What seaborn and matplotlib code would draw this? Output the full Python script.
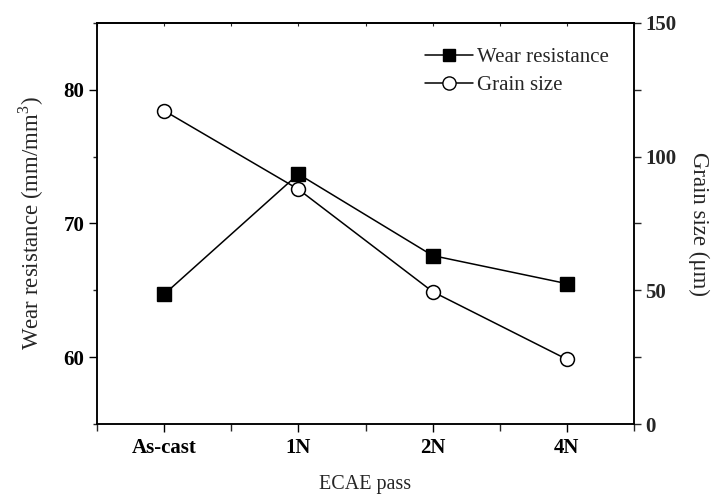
import matplotlib
matplotlib.use("Agg")
import matplotlib.pyplot as plt
import seaborn as sns
import numpy as np
from matplotlib.lines import Line2D
from matplotlib.ticker import MultipleLocator, FixedLocator

categories = ["As-cast", "1N", "2N", "4N"]
wear_resistance = [64.7, 73.7, 67.6, 65.5]
grain_size = [117.2, 87.8, 49.5, 24.2]
left_ticks = [60, 70, 80]
right_ticks = [0, 50, 100, 150]

sns.set_theme(style="ticks")
plt.rcParams["font.family"] = ["Liberation Serif", "DejaVu Serif"]
plt.rcParams["mathtext.fontset"] = "custom"
plt.rcParams["mathtext.rm"] = "Liberation Serif"

fig = plt.figure(figsize=(7.16, 4.94), dpi=100)
ax = fig.add_axes([97/716, 1-424/494, (634-97)/716, (424-23)/494])
ax2 = ax.twinx()

sns.pointplot(x=categories, y=wear_resistance, ax=ax, color="black",
              markers="s", linestyles="-", markersize=9.5, linewidth=1.1,
              markeredgewidth=1.0)
sns.pointplot(x=categories, y=grain_size, ax=ax2, color="black",
              markers="o", linestyles="-", markersize=10, linewidth=1.1,
              markerfacecolor="white", markeredgecolor="black",
              markeredgewidth=1.1)

ax.set_xlim(-0.5, 3.5)
ax2.set_xlim(-0.5, 3.5)
ax.set_ylim(55, 85)
ax2.set_ylim(0, 150)

ax.set_yticks(left_ticks)
ax.yaxis.set_minor_locator(MultipleLocator(5))
ax2.set_yticks(right_ticks)
ax2.yaxis.set_minor_locator(MultipleLocator(25))
ax.set_xticks(range(len(categories)))
ax.set_xticklabels(categories)
ax.xaxis.set_minor_locator(FixedLocator([-0.5, 0.5, 1.5, 2.5, 3.5]))

for a in (ax, ax2):
    for s in a.spines.values():
        s.set_linewidth(1.1)
        s.set_color("black")
        s.set_visible(True)

ax.tick_params(axis="both", which="major", direction="out", length=6, width=1.0,
               labelsize=15, colors="black", pad=3)
ax.tick_params(axis="both", which="minor", direction="out", length=3, width=1.0)
ax.tick_params(axis="x", which="minor", length=5)
ax.tick_params(axis="x", which="major", pad=4)
ax2.tick_params(axis="y", which="major", direction="out", length=5, width=1.0,
                labelsize=15, pad=3)
ax2.tick_params(axis="y", which="minor", direction="out", length=5, width=1.0)

for lab in ax.get_xticklabels() + ax.get_yticklabels() + ax2.get_yticklabels():
    lab.set_fontweight("bold")

top = ax.secondary_xaxis("top")
top.set_xticks(range(len(categories)))
top.xaxis.set_minor_locator(FixedLocator([-0.5, 0.5, 1.5, 2.5, 3.5]))
top.tick_params(which="both", direction="in", length=2, width=0.8, labeltop=False)
top.spines["top"].set_linewidth(1.1)

ax.set_xlabel("ECAE pass", fontsize=14.5, labelpad=12)
ax.set_ylabel(r"Wear resistance (mm/mm$^{\mathregular{3}}$)", fontsize=16.5, labelpad=13)
ax2.set_ylabel("Grain size (\u03bcm)", fontsize=16.5, rotation=270, labelpad=24)
ax.grid(False)
ax2.grid(False)

handles = [
    Line2D([], [], color="black", marker="s", markersize=9, linewidth=1.1),
    Line2D([], [], color="black", marker="o", markersize=9.5, linewidth=1.1,
           markerfacecolor="white"),
]
ax2.legend(handles, ["Wear resistance", "Grain size"], loc="upper right",
           bbox_to_anchor=(0.98, 0.975), frameon=False, fontsize=15,
           handlelength=2.3, handletextpad=0.2, labelspacing=0.4, borderpad=0.2)

fig.savefig("out.png", dpi=100)
